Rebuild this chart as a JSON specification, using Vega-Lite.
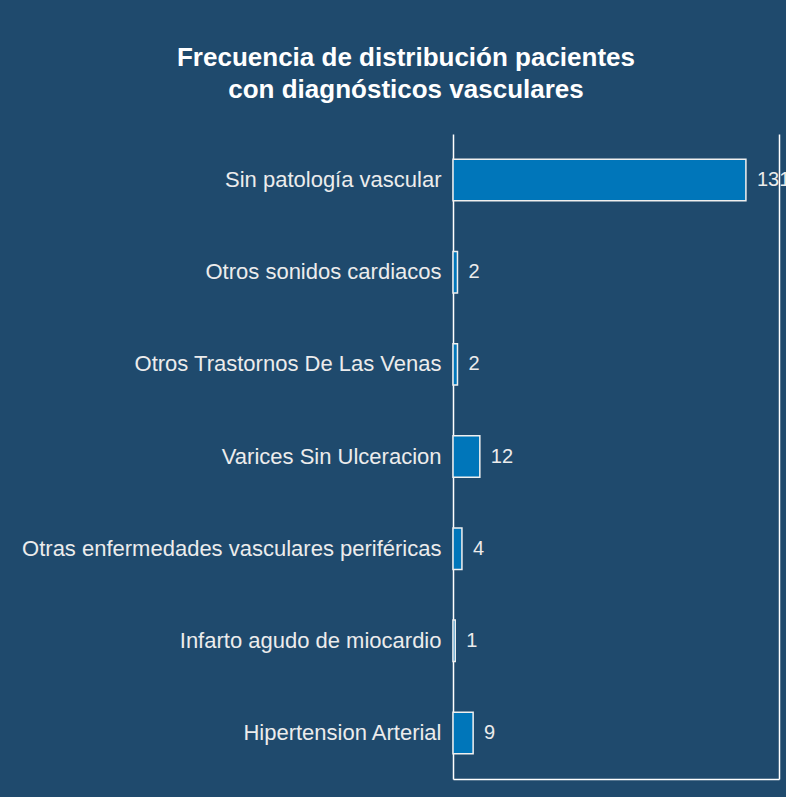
{
  "$schema": "https://vega.github.io/schema/vega-lite/v6.json",
  "autosize": {"type": "none"},
  "width": 326,
  "height": 645,
  "padding": {"left": 453, "top": 134, "right": 7, "bottom": 18},
  "background": "#1f4a6d",
  "title": {
    "text": ["Frecuencia de distribución pacientes", "con diagnósticos vasculares"],
    "anchor": "middle",
    "frame": "group",
    "dx": -210,
    "offset": 31,
    "font": "Liberation Sans",
    "fontSize": 26,
    "fontWeight": "bold",
    "color": "#ffffff",
    "lineHeight": 32
  },
  "data": {
    "values": [
      {"diagnostico": "Sin patología vascular", "n": 131},
      {"diagnostico": "Otros sonidos cardiacos", "n": 2},
      {"diagnostico": "Otros Trastornos De Las Venas", "n": 2},
      {"diagnostico": "Varices Sin Ulceracion", "n": 12},
      {"diagnostico": "Otras enfermedades vasculares periféricas", "n": 4},
      {"diagnostico": "Infarto agudo de miocardio", "n": 1},
      {"diagnostico": "Hipertension Arterial", "n": 9}
    ]
  },
  "encoding": {
    "x": {
      "field": "n",
      "type": "quantitative",
      "scale": {"domain": [0, 145.8], "nice": false},
      "axis": {"title": null, "labels": false, "ticks": false, "grid": false, "domain": true, "domainColor": "#ffffff", "domainWidth": 1.5}
    }
  },
  "layer": [
    {
      "mark": {"type": "bar", "color": "#0076ba", "stroke": "#f0f0f0", "strokeWidth": 1.5},
      "encoding": {
        "y": {
          "field": "diagnostico",
          "type": "nominal",
          "sort": null,
          "scale": {"paddingInner": 0.55, "paddingOuter": 0.275},
          "axis": {"title": null, "ticks": false, "grid": false, "domainColor": "#ffffff", "domainWidth": 1.5, "labelColor": "#ececec", "labelFont": "Liberation Sans", "labelFontSize": 22, "labelPadding": 12, "labelLimit": 460}
        }
      }
    },
    {
      "mark": {"type": "text", "align": "left", "dx": 11, "color": "#ececec", "font": "Liberation Sans", "fontSize": 20},
      "encoding": {
        "y": {
          "field": "diagnostico",
          "type": "nominal",
          "sort": null,
          "axis": {"orient": "right", "title": null, "labels": false, "ticks": false, "grid": false, "domainColor": "#ffffff", "domainWidth": 1.5}
        },
        "text": {"field": "n", "type": "quantitative"}
      }
    }
  ],
  "resolve": {"axis": {"y": "independent"}},
  "config": {"view": {"stroke": null}}
}
